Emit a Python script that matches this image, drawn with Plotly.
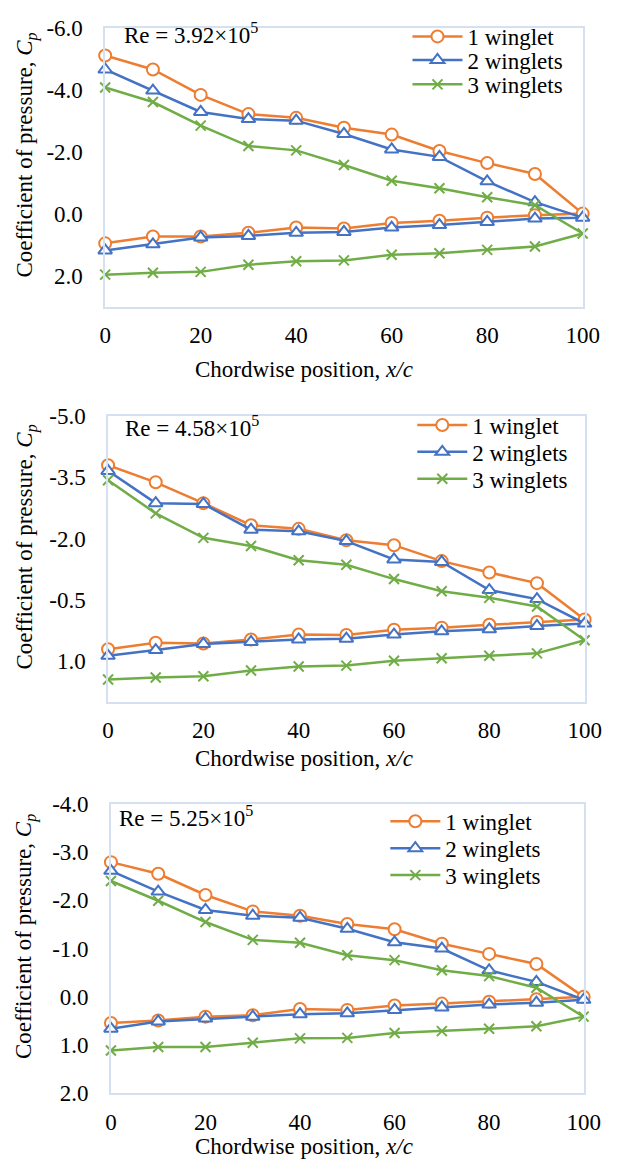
import plotly.graph_objects as go

W, H = 618, 1171

# ---------------- data ----------------
x_upper = [0, 10, 20, 30, 40, 50, 60, 70, 80, 90, 100]
x_lower = [90, 80, 70, 60, 50, 40, 30, 20, 10, 0]

series_names = ["1 winglet", "2 winglets", "3 winglets"]

# Panel 1: Re = 3.92x10^5
p1_w1_upper = [-5.10, -4.65, -3.83, -3.21, -3.09, -2.77, -2.55, -2.02, -1.63, -1.28, 0.00]
p1_w1_lower = [0.05, 0.13, 0.23, 0.30, 0.48, 0.45, 0.62, 0.74, 0.74, 0.96]
p1_w2_upper = [-4.65, -3.97, -3.28, -3.05, -3.00, -2.57, -2.07, -1.83, -1.04, -0.37, 0.13]
p1_w2_lower = [0.16, 0.27, 0.37, 0.45, 0.59, 0.62, 0.72, 0.77, 0.99, 1.19]
p1_w3_upper = [-4.07, -3.60, -2.84, -2.18, -2.04, -1.57, -1.06, -0.82, -0.53, -0.27, 0.64]
p1_w3_lower = [1.06, 1.17, 1.28, 1.33, 1.51, 1.54, 1.65, 1.88, 1.91, 1.97]

# Panel 2: Re = 4.58x10^5
p2_w1_upper = [-3.80, -3.38, -2.87, -2.33, -2.24, -1.96, -1.84, -1.45, -1.17, -0.91, -0.02]
p2_w1_lower = [0.04, 0.11, 0.18, 0.23, 0.36, 0.35, 0.47, 0.57, 0.55, 0.71]
p2_w2_upper = [-3.66, -2.87, -2.85, -2.22, -2.18, -1.94, -1.49, -1.43, -0.74, -0.52, 0.08]
p2_w2_lower = [0.14, 0.22, 0.27, 0.35, 0.45, 0.47, 0.53, 0.58, 0.73, 0.87]
p2_w3_upper = [-3.43, -2.62, -2.02, -1.82, -1.47, -1.36, -1.01, -0.71, -0.55, -0.34, 0.49]
p2_w3_lower = [0.81, 0.87, 0.93, 0.99, 1.11, 1.13, 1.23, 1.37, 1.40, 1.45]

# Panel 3: Re = 5.25x10^5
p3_w1_upper = [-2.79, -2.55, -2.11, -1.77, -1.68, -1.51, -1.40, -1.10, -0.89, -0.68, 0.00]
p3_w1_lower = [0.05, 0.10, 0.14, 0.18, 0.27, 0.25, 0.38, 0.41, 0.49, 0.54]
p3_w2_upper = [-2.61, -2.18, -1.80, -1.68, -1.64, -1.41, -1.13, -1.00, -0.55, -0.31, 0.06]
p3_w2_lower = [0.12, 0.16, 0.22, 0.27, 0.34, 0.36, 0.41, 0.45, 0.51, 0.66]
p3_w3_upper = [-2.40, -1.99, -1.55, -1.18, -1.12, -0.86, -0.76, -0.55, -0.43, -0.19, 0.41]
p3_w3_lower = [0.61, 0.66, 0.71, 0.75, 0.85, 0.86, 0.95, 1.04, 1.04, 1.11]

re_labels = ["Re = 3.92×10<sup>5</sup>", "Re = 4.58×10<sup>5</sup>", "Re = 5.25×10<sup>5</sup>"]

p1_ytickvals = [-6, -4, -2, 0, 2]
p1_yticktext = ["-6.0", "-4.0", "-2.0", "0.0", "2.0"]
p2_ytickvals = [-5, -3.5, -2, -0.5, 1]
p2_yticktext = ["-5.0", "-3.5", "-2.0", "-0.5", "1.0"]
p3_ytickvals = [-4, -3, -2, -1, 0, 1, 2]
p3_yticktext = ["-4.0", "-3.0", "-2.0", "-1.0", "0.0", "1.0", "2.0"]
y_ranges = [[3, -6], [2, -5], [2, -4]]

x_tickvals = [0, 20, 40, 60, 80, 100]
x_ticktext = ["0", "20", "40", "60", "80", "100"]

x_title = "Chordwise position, <i>x/c</i>"
y_title = "Coefficient of pressure, <i>C<sub>p</sub></i>"

# --------------- styling ---------------
FONT = "'Liberation Serif', 'DejaVu Serif', serif"
FS = 23
COLORS = ["#ED7D31", "#4472C4", "#70AD47"]
AXIS_LINE = "#D5E1F1"

# panel geometry in pixels: (left, right, top, bottom)
panels_px = [(103, 599, 16, 301), (106, 601, 413, 705), (109, 600, 809, 1105)]
legend_text_x = [477, 482, 454]
legend_rows_y = [[25, 49, 74], [422, 449.5, 477], [827, 854.5, 882]]
re_pos = [(121, 22), (122, 424), (115, 822)]
xtitle_y = [365, 763, 1159]

def px(x):
    return x / W

def py(y):
    return 1 - y / H

fig = go.Figure()

panel_data = [
    [(p1_w1_upper, p1_w1_lower), (p1_w2_upper, p1_w2_lower), (p1_w3_upper, p1_w3_lower)],
    [(p2_w1_upper, p2_w1_lower), (p2_w2_upper, p2_w2_lower), (p2_w3_upper, p2_w3_lower)],
    [(p3_w1_upper, p3_w1_lower), (p3_w2_upper, p3_w2_lower), (p3_w3_upper, p3_w3_lower)],
]
ytick_sets = [(p1_ytickvals, p1_yticktext), (p2_ytickvals, p2_yticktext), (p3_ytickvals, p3_yticktext)]

markers = [
    dict(symbol="circle", size=12, color="white", line=dict(color=COLORS[0], width=2)),
    dict(symbol="triangle-up", size=12, color="white", line=dict(color=COLORS[1], width=2)),
    dict(symbol="x-thin", size=10, color=COLORS[2], line=dict(color=COLORS[2], width=2)),
]

ITEMW = 50
layout = dict(
    width=W, height=H,
    margin=dict(l=0, r=0, t=0, b=0),
    paper_bgcolor="white", plot_bgcolor="white",
    font=dict(family=FONT, size=FS, color="black"),
    showlegend=True,
)

k = 0
for p in range(3):
    xa = "x" if p == 0 else f"x{p+1}"
    ya = "y" if p == 0 else f"y{p+1}"
    for s in range(3):
        k += 1
        lname = "legend" if k == 1 else f"legend{k}"
        up, lo = panel_data[p][s]
        fig.add_trace(go.Scatter(
            x=x_upper + x_lower, y=up + lo,
            mode="lines+markers", name=series_names[s],
            line=dict(color=COLORS[s], width=2.5),
            marker=markers[s], cliponaxis=False,
            xaxis=xa, yaxis=ya, legend=lname,
        ))
        layout[lname] = dict(
            x=px(legend_text_x[p] - ITEMW - 10), y=py(legend_rows_y[p][s]),
            xanchor="left", yanchor="middle",
            bgcolor="rgba(0,0,0,0)", borderwidth=0,
            font=dict(family=FONT, size=FS, color="black"),
            itemwidth=ITEMW,
        )

annotations = []
for p in range(3):
    l, r, t, b = panels_px[p]
    sfx = "" if p == 0 else str(p + 1)
    layout["xaxis" + sfx] = dict(
        domain=[px(l), px(r)], range=[0, 100], anchor="y" + sfx,
        tickvals=x_tickvals, ticktext=x_ticktext,
        showgrid=False, zeroline=False, showline=True, mirror=True,
        linecolor=AXIS_LINE, linewidth=1.5, ticks="", ticklabelstandoff=7,
        tickfont=dict(family=FONT, size=FS, color="black"),
    )
    layout["yaxis" + sfx] = dict(
        domain=[py(b), py(t)], range=y_ranges[p], anchor="x" + sfx,
        tickvals=ytick_sets[p][0], ticktext=ytick_sets[p][1],
        showgrid=False, zeroline=False, showline=True, mirror=True,
        linecolor=AXIS_LINE, linewidth=1.5, ticks="", ticklabelstandoff=16,
        tickfont=dict(family=FONT, size=FS, color="black"),
    )
    rx, ry = re_pos[p]
    annotations.append(dict(
        text=re_labels[p], x=px(rx), y=py(ry), xref="paper", yref="paper",
        xanchor="left", yanchor="middle", showarrow=False,
        font=dict(family=FONT, size=FS, color="black"),
    ))
    annotations.append(dict(
        text=x_title, x=px(309), y=py(xtitle_y[p]), xref="paper", yref="paper",
        xanchor="center", yanchor="middle", showarrow=False,
        font=dict(family=FONT, size=FS, color="black"),
    ))
    annotations.append(dict(
        text=y_title, x=px(21), y=py((t + b) / 2 - 12), xref="paper", yref="paper",
        xanchor="center", yanchor="middle", showarrow=False, textangle=-90,
        font=dict(family=FONT, size=FS, color="black"),
    ))

layout["annotations"] = annotations
fig.update_layout(**layout)
fig.write_html("out.html")
